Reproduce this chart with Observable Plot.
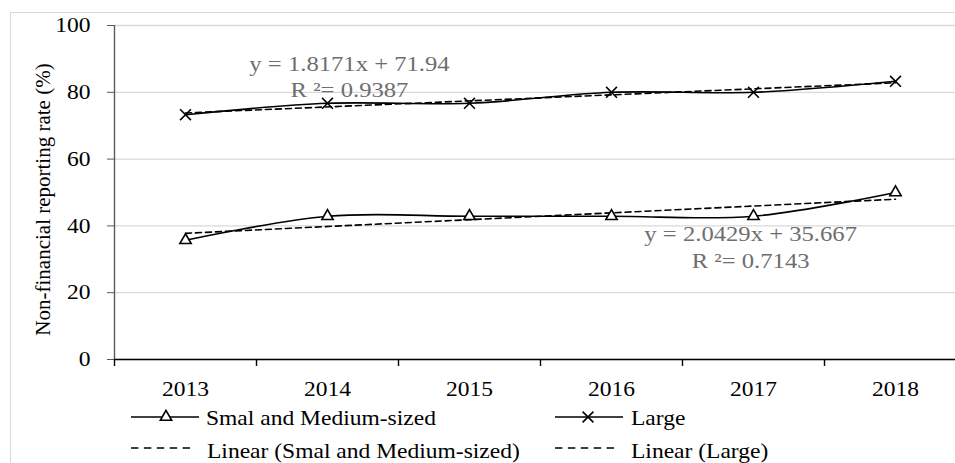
<!DOCTYPE html>
<html>
<head>
<meta charset="utf-8">
<script src="https://cdn.jsdelivr.net/npm/d3@7"></script>
<script src="https://cdn.jsdelivr.net/npm/@observablehq/plot@0.6"></script>
<style>
  html, body { margin: 0; padding: 0; background: #fff; overflow: hidden; }
  #wrap { position: relative; width: 955px; height: 463px; font-family: "Liberation Serif", "Times New Roman", Tinos, "DejaVu Serif", serif; }
  #border { position: absolute; left: 10px; top: 12px; width: 2000px; height: 2000px; border: 1px solid #d9d9d9; box-sizing: border-box; }
  #chart { position: absolute; left: 0; top: 0; }
  #legend { position: absolute; left: 0; top: 400px; }
  svg text { font-family: "Liberation Serif", "Times New Roman", Tinos, "DejaVu Serif", serif !important; }
</style>
</head>
<body>
<div id="wrap">
  <div id="border"></div>
  <div id="chart"></div>
  <div id="legend"></div>
</div>
<script>
// ---- data ----
const years = [2013, 2014, 2015, 2016, 2017, 2018];
const smeValues = [35.7, 42.9, 42.9, 42.9, 42.9, 50.0];
const largeValues = [73.3, 76.7, 76.7, 80.0, 80.0, 83.3];
const yTicks = [0, 20, 40, 60, 80, 100];
const seriesNames = ["Smal and Medium-sized", "Large"];
const trendNames = ["Linear (Smal and Medium-sized)", "Linear (Large)"];
const eqLarge = ["y = 1.8171x + 71.94", "R ²= 0.9387"];
const eqSme = ["y = 2.0429x + 35.667", "R ²= 0.7143"];
const yLabel = "Non-financial reporting rate (%)";

const sme = years.map((y, i) => ({year: y, value: smeValues[i]}));
const large = years.map((y, i) => ({year: y, value: largeValues[i]}));
const bounds = years.map(y => y - 0.5);

const FONT = '"Liberation Serif", "Times New Roman", Tinos, "DejaVu Serif", serif';
const eqColor = "#6e6e6e";

const chart = Plot.plot({
  width: 955,
  height: 400,
  marginLeft: 114,
  marginRight: 0,
  marginTop: 25,
  marginBottom: 41,
  style: {fontFamily: FONT, fontSize: "21px", background: "transparent", overflow: "visible"},
  x: {type: "linear", domain: [2012.5, 2018.5], range: [114, 966], axis: null},
  y: {domain: [0, 100], axis: null},
  marks: [
    Plot.gridY(yTicks, {stroke: "#d9d9d9", strokeOpacity: 1, strokeWidth: 1.3}),
    Plot.axisY(yTicks, {tickSize: 7, tickPadding: 17, fontSize: 21, stroke: "#595959", fill: "black", label: null}),
    Plot.ruleX([2012.5], {y1: 0, y2: 100, stroke: "#595959", strokeWidth: 1.4}),
    Plot.axisX(bounds, {tickSize: 7, tickFormat: () => "", stroke: "black", strokeWidth: 1.4, label: null}),
    Plot.axisX(years, {tickSize: 0, tickPadding: 22, fontSize: 21, fill: "black", tickFormat: d => String(d), label: null}),
    Plot.ruleY([0], {stroke: "black", strokeWidth: 1.6}),
    Plot.linearRegressionY(sme, {x: "year", y: "value", ci: 0, stroke: "black", strokeWidth: 1.6, strokeDasharray: "6,4"}),
    Plot.linearRegressionY(large, {x: "year", y: "value", ci: 0, stroke: "black", strokeWidth: 1.6, strokeDasharray: "6,4"}),
    Plot.line(sme, {x: "year", y: "value", curve: "catmull-rom", stroke: "black", strokeWidth: 1.6}),
    Plot.line(large, {x: "year", y: "value", curve: "catmull-rom", stroke: "black", strokeWidth: 1.6}),
    Plot.dot(sme, {x: "year", y: "value", symbol: "triangle", r: 4.2, fill: "white", stroke: "black", strokeWidth: 1.6}),
    Plot.dot(large, {x: "year", y: "value", symbol: "times", r: 5, stroke: "black", strokeWidth: 1.6}),
    Plot.text([eqLarge[0]], {x: 2014.155, y: 88.4, text: d => d, fill: eqColor, fontSize: 22, textAnchor: "middle"}),
    Plot.text([eqLarge[1]], {x: 2014.155, y: 80.7, text: d => d, fill: eqColor, fontSize: 22, textAnchor: "middle"}),
    Plot.text([eqSme[0]], {x: 2016.98, y: 37.5, text: d => d, fill: eqColor, fontSize: 22, textAnchor: "middle"}),
    Plot.text([eqSme[1]], {x: 2016.98, y: 29.6, text: d => d, fill: eqColor, fontSize: 22, textAnchor: "middle"}),
    Plot.text([yLabel], {x: 2012.0, y: 47.9, text: d => d, rotate: -90, fill: "black", fontSize: 21, textAnchor: "middle"})
  ]
});
chart.setAttribute("font-family", FONT);
document.getElementById("chart").appendChild(chart);

// ---- legend ----
const lg = d3.select("#legend").append("svg").attr("width", 955).attr("height", 63)
  .attr("font-family", FONT).attr("font-size", 21);
const entries = [
  {x0: 131, x1: 199, mx: 166, tx: 206, ly: 17, ty: 25, text: seriesNames[0], sym: d3.symbolTriangle, size: Math.PI * 4.2 * 4.2, dash: null, fill: "white"},
  {x0: 555, x1: 623, mx: 588, tx: 631, ly: 17, ty: 25, text: seriesNames[1], sym: d3.symbolTimes, size: Math.PI * 25, dash: null, fill: "none"},
  {x0: 131, x1: 190, tx: 207, ly: 48, ty: 58, text: trendNames[0], dash: "7.4,5.5"},
  {x0: 555, x1: 615, tx: 631, ly: 48, ty: 58, text: trendNames[1], dash: "7.4,5.5"}
];
for (const e of entries) {
  lg.append("line").attr("x1", e.x0).attr("x2", e.x1).attr("y1", e.ly).attr("y2", e.ly)
    .attr("stroke", "black").attr("stroke-width", 1.6).attr("stroke-dasharray", e.dash);
  if (e.sym) {
    lg.append("path").attr("d", d3.symbol(e.sym, e.size)())
      .attr("transform", `translate(${e.mx},${e.ly})`)
      .attr("fill", e.fill).attr("stroke", "black").attr("stroke-width", 1.6);
  }
  lg.append("text").attr("x", e.tx).attr("y", e.ty).attr("fill", "black").text(e.text);
}

// The reference is slightly stretched horizontally: widen horizontal text glyphs to match.
const STRETCH = 1.12;
document.querySelectorAll("#wrap svg text").forEach(t => {
  if ((t.getAttribute("transform") || "").includes("rotate")) return;
  const targets = t.querySelectorAll("tspan").length ? t.querySelectorAll("tspan") : [t];
  targets.forEach(el => {
    const len = el.getComputedTextLength();
    if (len > 0) {
      el.setAttribute("textLength", (len * STRETCH).toFixed(1));
      el.setAttribute("lengthAdjust", "spacingAndGlyphs");
    }
  });
});
</script>
</body>
</html>
